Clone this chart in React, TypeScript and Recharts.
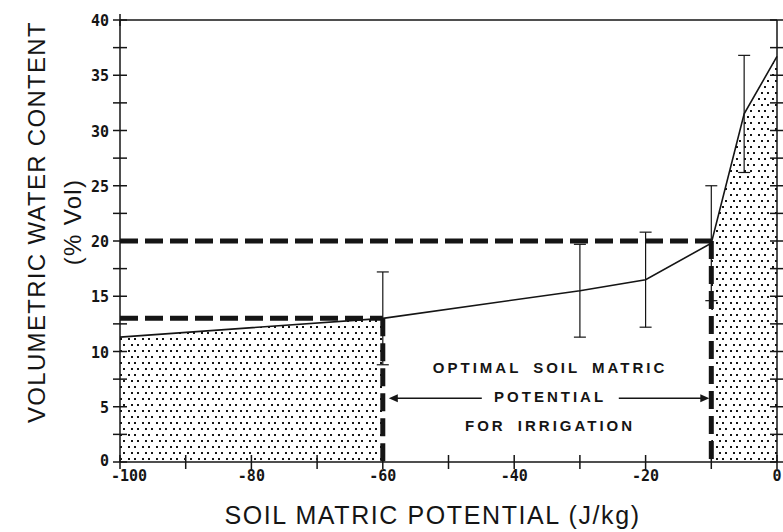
import { Area, ComposedChart, ErrorBar, Label, Line, ReferenceArea, ReferenceLine, XAxis, YAxis } from "recharts";

// soil matric potential (J/kg) and measured water content (% vol)
const potential = [-100, -60, -30, -20, -10, -5, 0];
const waterContent = [11.3, 13.0, 15.5, 16.5, 19.8, 31.5, 36.7];
const errorHalf = [null, 4.2, 4.2, 4.3, 5.2, 5.3, null];

const xTicks = [-100, -90, -80, -70, -60, -50, -40, -30, -20, -10, 0];
const xLabelTicks = [-100, -80, -60, -40, -20, 0];
const yTicks = [0, 2.5, 5, 7.5, 10, 12.5, 15, 17.5, 20, 22.5, 25, 27.5, 30, 32.5, 35, 37.5, 40];
const yLabelTicks = [0, 5, 10, 15, 20, 25, 30, 35, 40];

const dryLimit = { potential: -60, content: 13 };
const wetLimit = { potential: -10, content: 20 };

const annotationLines = ["OPTIMAL SOIL MATRIC", "POTENTIAL", "FOR IRRIGATION"];

const rows = potential.map((x, i) => ({
  x,
  y: waterContent[i],
  err: errorHalf[i],
  dryFill: x <= dryLimit.potential ? waterContent[i] : null,
  wetFill: x >= wetLimit.potential ? waterContent[i] : null,
}));

const INK = "#151515";
const tickFont = {
  fontFamily: "'DejaVu Sans Mono', monospace",
  fontSize: 15,
  fontWeight: 700,
  fill: INK,
};
const titleFont = {
  fontFamily: "'Liberation Sans', Arial, sans-serif",
  fontSize: 24,
  fill: INK,
  letterSpacing: 1.3,
};

function BottomTick({ x, y, payload }: any) {
  const v = payload.value;
  // first label sits a little right so it clears the y-axis "0"
  const shift = v === xTicks[0] ? 9 : 0;
  return (
    <g>
      <line x1={x} x2={x} y1={y - 7} y2={y + 7} stroke={INK} strokeWidth={1.5} />
      {xLabelTicks.includes(v) && (
        <text x={x + shift} y={y + 14} textAnchor="middle" dominantBaseline="central" {...tickFont}>
          {v}
        </text>
      )}
    </g>
  );
}

function TopTick({ x, y }: any) {
  return <line x1={x} x2={x} y1={y - 6} y2={y + 6} stroke={INK} strokeWidth={1.5} />;
}

function LeftTick({ x, y, payload }: any) {
  const v = payload.value;
  return (
    <g>
      <line x1={x - 7} x2={x + 7} y1={y} y2={y} stroke={INK} strokeWidth={1.5} />
      {yLabelTicks.includes(v) && (
        <text x={x - 11} y={v === 0 ? y - 1 : y + 1} textAnchor="end" dominantBaseline="central" {...tickFont}>
          {v}
        </text>
      )}
    </g>
  );
}

function RightTick({ x, y }: any) {
  return <line x1={x - 7} x2={x + 7} y1={y} y2={y} stroke={INK} strokeWidth={1.5} />;
}

function YTitle({ viewBox }: any) {
  const cy = viewBox.y + viewBox.height / 2 - 19;
  return (
    <g>
      <text transform={`translate(${viewBox.x + 36}, ${cy}) rotate(-90)`} textAnchor="middle" dominantBaseline="central" {...titleFont}>
        VOLUMETRIC WATER CONTENT
      </text>
      <text transform={`translate(${viewBox.x + 72}, ${cy}) rotate(-90)`} textAnchor="middle" dominantBaseline="central" {...titleFont}>
        (% Vol)
      </text>
    </g>
  );
}

function XTitle({ viewBox }: any) {
  return (
    <text x={viewBox.x + viewBox.width / 2 - 16} y={viewBox.y + 62} textAnchor="middle" {...titleFont} fontSize={25} letterSpacing={1.6}>
      SOIL MATRIC POTENTIAL (J/kg)
    </text>
  );
}

function Annotation({ viewBox }: any) {
  const { x, y, width } = viewBox;
  const cx = x + width / 2 + 3;
  const ay = y + 80;
  const font = {
    fontFamily: "'Liberation Sans', Arial, sans-serif",
    fontSize: 15,
    fontWeight: 700,
    fill: INK,
    letterSpacing: 3,
    wordSpacing: 5,
  };
  return (
    <g>
      {annotationLines.map((t, i) => (
        <text key={t} x={cx} y={y + 49 + i * 29} textAnchor="middle" dominantBaseline="central" {...font}>
          {t}
        </text>
      ))}
      <line x1={x + 12} x2={x + 99} y1={ay} y2={ay} stroke={INK} strokeWidth={1.5} />
      <path d={`M${x + 6},${ay} L${x + 15},${ay - 4} L${x + 15},${ay + 4} Z`} fill={INK} />
      <line x1={x + 236} x2={x + width - 8} y1={ay} y2={ay} stroke={INK} strokeWidth={1.5} />
      <path d={`M${x + width - 2},${ay} L${x + width - 11},${ay - 4} L${x + width - 11},${ay + 4} Z`} fill={INK} />
    </g>
  );
}

export default function App() {
  return (
    <div style={{ position: "absolute", left: 0, top: 0, background: "#fff" }}>
      <ComposedChart width={783} height={532} data={rows} margin={{ top: 0, right: 0, bottom: 0, left: 0 }}>
        <defs>
          <pattern id="dots" width="14" height="12" patternUnits="userSpaceOnUse">
            <rect x="2" y="2" width="2" height="2" fill={INK} />
            <rect x="8" y="2" width="2" height="2" fill={INK} />
            <rect x="5" y="8" width="2" height="2" fill={INK} />
            <rect x="11" y="8" width="2" height="2" fill={INK} />
          </pattern>
        </defs>
        <XAxis
          xAxisId="x"
          dataKey="x"
          type="number"
          domain={[-100, 0]}
          ticks={xTicks}
          interval={0}
          height={70}
          tickSize={0}
          tickMargin={0}
          tickLine={false}
          tick={BottomTick}
          axisLine={{ stroke: INK, strokeWidth: 1.5 }}
          label={<XTitle />}
        />
        <XAxis
          xAxisId="top"
          orientation="top"
          type="number"
          domain={[-100, 0]}
          allowDataOverflow
          ticks={xTicks}
          interval={0}
          height={20}
          tickSize={0}
          tickMargin={0}
          tickLine={false}
          tick={TopTick}
          axisLine={{ stroke: INK, strokeWidth: 1.5 }}
        />
        <YAxis
          yAxisId="y"
          type="number"
          domain={[0, 40]}
          ticks={yTicks}
          interval={0}
          width={120}
          tickSize={0}
          tickMargin={0}
          tickLine={false}
          tick={LeftTick}
          axisLine={{ stroke: INK, strokeWidth: 1.5 }}
          label={<YTitle />}
        />
        <YAxis
          yAxisId="right"
          orientation="right"
          type="number"
          domain={[0, 40]}
          allowDataOverflow
          ticks={yTicks}
          interval={0}
          width={6}
          tickSize={0}
          tickMargin={0}
          tickLine={false}
          tick={RightTick}
          axisLine={{ stroke: INK, strokeWidth: 1.5 }}
        />
        <Area
          xAxisId="x"
          yAxisId="y"
          type="linear"
          dataKey="dryFill"
          stroke="none"
          fill="url(#dots)"
          fillOpacity={1}
          isAnimationActive={false}
        />
        <Area
          xAxisId="x"
          yAxisId="y"
          type="linear"
          dataKey="wetFill"
          stroke="none"
          fill="url(#dots)"
          fillOpacity={1}
          isAnimationActive={false}
        />
        <ReferenceArea xAxisId="x" yAxisId="y" x1={dryLimit.potential} x2={wetLimit.potential} y1={0} y2={dryLimit.content} fill="none" stroke="none">
          <Label content={Annotation} />
        </ReferenceArea>
        <ReferenceLine
          xAxisId="x"
          yAxisId="y"
          segment={[{ x: -100, y: dryLimit.content }, { x: dryLimit.potential, y: dryLimit.content }]}
          stroke={INK}
          strokeWidth={5}
          strokeDasharray="18 7"
        />
        <ReferenceLine
          xAxisId="x"
          yAxisId="y"
          segment={[{ x: dryLimit.potential, y: dryLimit.content }, { x: dryLimit.potential, y: 0 }]}
          stroke={INK}
          strokeWidth={5}
          strokeDasharray="18 7"
        />
        <ReferenceLine
          xAxisId="x"
          yAxisId="y"
          segment={[{ x: -100, y: wetLimit.content }, { x: wetLimit.potential, y: wetLimit.content }]}
          stroke={INK}
          strokeWidth={5}
          strokeDasharray="18 7"
        />
        <ReferenceLine
          xAxisId="x"
          yAxisId="y"
          segment={[{ x: wetLimit.potential, y: wetLimit.content }, { x: wetLimit.potential, y: 0 }]}
          stroke={INK}
          strokeWidth={5}
          strokeDasharray="18 7"
        />
        <Line
          xAxisId="x"
          yAxisId="y"
          type="linear"
          dataKey="y"
          stroke={INK}
          strokeWidth={1.6}
          dot={false}
          isAnimationActive={false}
        >
          <ErrorBar dataKey="err" width={6} stroke={INK} strokeWidth={1.2} direction="y" />
        </Line>
      </ComposedChart>
    </div>
  );
}
